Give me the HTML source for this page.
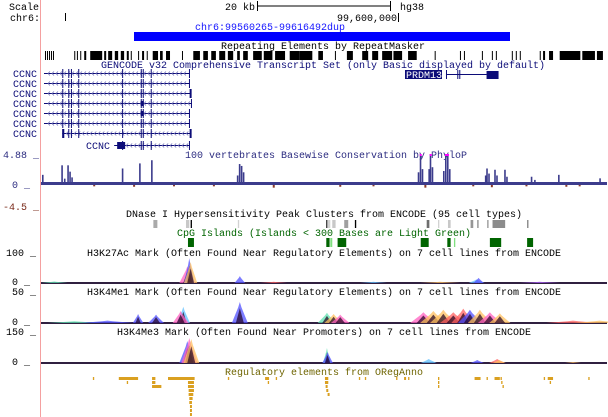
<!DOCTYPE html>
<html><head><meta charset="utf-8"><style>
html,body{margin:0;padding:0;background:#fff;width:608px;height:417px;overflow:hidden}
svg{display:block;font-family:"Liberation Mono",monospace;font-size:10px}
</style></head><body>
<svg id="c" width="608" height="417" viewBox="0 0 608 417" xmlns="http://www.w3.org/2000/svg">
<line x1="40.5" y1="0" x2="40.5" y2="417" stroke="#f4a0a0"/>
<text x="9" y="10" fill="#000">Scale</text>
<text x="10" y="21" fill="#000">chr6:</text>
<text x="225" y="10" fill="#000">20 kb</text>
<path d="M257 6H390M257.5 1V11M390.5 1V11" stroke="#000"/>
<text x="400" y="10" fill="#000">hg38</text>
<text x="397" y="21" text-anchor="end" fill="#000">99,600,000</text>
<path d="M398.5 13V22M65.5 13V21" stroke="#000"/>
<text x="270" y="30" text-anchor="middle" fill="#1414ff">chr6:99560265-99616492dup</text>
<rect x="134" y="32" width="376" height="9" fill="#0000ff"/>
<text x="323" y="49" text-anchor="middle" fill="#000">Repeating Elements by RepeatMasker</text>
<g id="rep"></g>
<text x="323" y="68" text-anchor="middle" fill="#0c0c78">GENCODE v32 Comprehensive Transcript Set (only Basic displayed by default)</text>
<g id="genes"></g>
<text x="326" y="158" text-anchor="middle" fill="#2c2c80">100 vertebrates Basewise Conservation by PhyloP</text>
<text x="3" y="158" fill="#2c2c80">4.88 _</text>
<text x="12" y="188" fill="#2c2c80">0 _</text>
<text x="3" y="210" fill="#7a2a1a">-4.5 _</text>
<g id="cons"></g>
<text x="324" y="217" text-anchor="middle" fill="#000">DNase I Hypersensitivity Peak Clusters from ENCODE (95 cell types)</text>
<g id="dnase"></g>
<text x="324" y="236" text-anchor="middle" fill="#006400">CpG Islands (Islands &lt; 300 Bases are Light Green)</text>
<g id="cpg"></g>
<text x="324" y="256" text-anchor="middle" fill="#000">H3K27Ac Mark (Often Found Near Regulatory Elements) on 7 cell lines from ENCODE</text>
<text x="6" y="256" fill="#000">100 _</text>
<text x="12" y="285" fill="#000">0 _</text>
<g id="k27"></g>
<text x="324" y="295" text-anchor="middle" fill="#000">H3K4Me1 Mark (Often Found Near Regulatory Elements) on 7 cell lines from ENCODE</text>
<text x="12" y="295" fill="#000">50 _</text>
<text x="12" y="325" fill="#000">0 _</text>
<g id="me1"></g>
<text x="324" y="335" text-anchor="middle" fill="#000">H3K4Me3 Mark (Often Found Near Promoters) on 7 cell lines from ENCODE</text>
<text x="6" y="335" fill="#000">150 _</text>
<text x="12" y="365" fill="#000">0 _</text>
<g id="me3"></g>
<text x="324" y="375" text-anchor="middle" fill="#6e6400">Regulatory elements from ORegAnno</text>
<g id="oreg"></g>
</svg>
<script>
// genomic positions in kb from window start (chr6:99,546,300)
const repeatStarts=[0.6,0.9,1.2,1.5,1.8,5.0,5.4,5.9,6.5,7.4,9.5,10.1,11.1,12.0,12.9,13.5,14.6,15.2,15.9,16.8,17.9,18.8,21.2,22.9,24.4,25.6,26.8,28.1,29.5,30.4,31.9,33.5,35.2,37.4,38.9,41.7,44.2,46.0,48.3,49.8,51.3,53.0,55.2,59.2,63.0,63.6,66.3,67.8,68.4,70.8,71.4,72.0,75.0,75.5,76.4,78.0,81.4,83.6];
const repeatEnds=[0.75,1.05,1.35,1.65,1.95,5.15,5.55,6.05,6.8,9.2,9.8,10.7,11.6,12.5,13.2,13.65,14.75,15.5,16.05,17.6,18.3,19.4,21.35,23.9,25.1,26.3,27.7,28.9,29.9,31.1,33.2,34.8,36.7,38.9,40.8,42.4,44.35,46.9,49.2,50.7,52.8,54.3,56.5,59.35,63.15,63.75,66.45,67.95,68.55,70.95,71.55,72.15,75.15,75.8,77.0,81.1,83.3,84.5];
const exonKb=[3.2,4.1,4.5,5.6,12.2,15.0,15.3,16.5];
const geneStarts=[0.45,0.45,0.45,0.45,0.45,0.45,3.2,11.0];
const geneEnds=[22.4,22.4,22.5,22.7,22.4,22.4,22.5,22.4];
const consPos=[0.3,3.2,3.6,4.1,4.4,4.7,12.3,14.9,16.7,29.6,29.9,30.2,30.5,56.8,57.1,57.4,58.4,58.6,58.9,60.6,60.9,61.2,61.5,66.9,67.1,67.4,68.3,68.6,69.8,70.1,73.8,74.3,77.9,84.1];
const consVal=[1.6,3.1,1.0,3.1,2.1,1.2,2.6,3.4,3.9,1.5,3.3,3.0,2.0,2.0,5.0,2.5,2.5,5.0,2.8,2.2,5.0,5.0,2.5,1.5,2.6,1.8,2.4,1.5,2.4,1.3,1.3,0.8,1.6,1.05];
const consNegPos=[8,14,20,26,35,45,50,57.8,65,67.8,73,79,81];
const consNegVal=[-0.3,-0.4,-0.3,-0.3,-0.6,-0.4,-0.3,-0.6,-0.3,-0.5,-0.3,-0.4,-0.3];
const dnaseStart=[16.9,21.8,22.5,29.6,42.9,43.1,43.8,45.6,47.2,58.0,59.7,61.2,64.6,65.6,67.1,67.9,73.1];
const dnaseEnd=[17.5,22.3,22.7,29.8,43.05,43.5,44.3,46.2,47.4,58.4,59.9,61.6,65.0,65.8,67.3,69.8,73.3];
const dnaseShade=[170,200,0,210,0,210,200,160,0,110,210,200,150,140,150,140,130];
const cpgStart=[22.1,42.9,43.5,44.6,57.1,61.1,62.1,67.5,73.1];
const cpgEnd=[23.0,43.4,43.8,45.9,58.3,61.6,62.3,69.2,74.0];
const cpgSmall=[0,0,1,0,0,0,1,0,0];
const k27Pos=[22.0,22.3,22.5,29.9,65.5,65.8,2.0,35.0,50.0,60.0,75.0];
const k27Val=[55,83,70,23,12,17,5,4,4,4,4];
const k27W=[0.6,0.4,0.5,0.4,0.6,0.4,1.0,1.0,1.0,1.5,1.5];
const k27Cell=[6,4,1,4,3,4,2,0,3,1,5];
const me1Pos=[14.6,17.3,21.4,21.0,29.9,43.0,44.0,45.0,57.5,59.0,60.5,62.0,63.5,64.5,66.0,67.5,69.0,5.0,10.0,80.0,84.0];
const me1Val=[15,14,27,20,35,17,15,14,18,20,22,18,24,22,22,18,16,3,4,4,4];
const me1W=[0.4,0.6,0.5,0.6,0.6,0.7,0.7,0.7,1.0,1.0,1.0,1.0,0.9,0.9,0.9,0.9,0.8,2,2,2,2];
const me1Cell=[4,4,3,6,4,2,1,6,6,1,1,0,0,4,1,6,1,2,4,0,1];
const me3Pos=[22.0,22.3,22.6,43.0,43.1,58.3,65.6,68.6,68.9,80.0];
const me3Val=[110,125,120,75,55,20,15,20,15,5];
const me3W=[0.6,0.6,0.6,0.3,0.4,0.6,0.5,0.6,0.5,0.6];
const me3Cell=[4,6,1,2,4,3,4,0,1,1];
const cellColors=["#ff6060","#ffc060","#60e0b0","#60c0ff","#5050ff","#b060ff","#ff60c0"];
const oregStart=[7.8,11.7,16.7,19.1,28.1,33.7,35.3,42.7,47.8,48.7,53.4,54.6,55.2,59.7,65.2,67.0,68.2,69.1,75.6,76.2,82.3, 12.9,16.7,22.1,34.1,42.7,59.7,69.2,76.5, 16.7,22.1,42.8,59.7,69.4, 22.2,22.2,22.3,22.3,22.4,22.4,22.4,22.4,42.9,43.1];
const oregEnd=[8.0,14.6,17.2,23.1,28.3,34.3,35.5,43.2,48.0,48.9,53.6,54.9,55.4,59.9,66.1,67.2,69.0,69.3,75.8,77.0,82.5, 13.1,17.2,23.0,34.3,43.2,59.9,69.4,76.7, 18.1,23.0,43.1,59.9,69.6, 23.0,22.9,22.8,22.7,22.7,22.7,22.7,22.7,43.2,43.4];
const oregRow=[0,0,0,0,0,0,0,0,0,0,0,0,0,0,0,0,0,0,0,0,0, 1,1,1,1,1,1,1,1, 2,2,2,2,2, 3,4,5,6,7,8,9,10,3,4];

const NS="http://www.w3.org/2000/svg";
const X0=41,PX_PER_KB=6.65;
function xs(kb){return X0+kb*PX_PER_KB;}
function el(parent,tag,attrs){const e=document.createElementNS(NS,tag);for(const k in attrs)e.setAttribute(k,attrs[k]);parent.appendChild(e);return e;}
const g=id=>document.getElementById(id);

for(let i=0;i<repeatStarts.length;i++){
  const r=el(g('rep'),'rect',{x:xs(repeatStarts[i]),y:51,width:Math.max(1,xs(repeatEnds[i])-xs(repeatStarts[i])),height:9,fill:'#000'});
  
  
}
const NAVY='#0c0c78';
for(let i=0;i<geneStarts.length;i++){
  const y=i<7?73+i*10:145;
  const lab=el(g('genes'),'text',{x:i<7?37:110,y:y+4,'text-anchor':'end',fill:NAVY});
  lab.textContent='CCNC';
  
  
  const x1=xs(geneStarts[i]),x2=xs(geneEnds[i]);
  const ln=el(g('genes'),'line',{x1:x1,y1:y+0.5,x2:x2,y2:y+0.5,stroke:NAVY});
  
  
  for(let a=x1+4;a<x2-3;a+=4){
    const ch=el(g('genes'),'path',{d:`M${a+2} ${y-1.5}L${a} ${y+0.5}L${a+2} ${y+2.5}`,stroke:'#6a6ab0',fill:'none','stroke-width':0.7});
    
    
  }
  for(const e of exonKb){
    if(e<geneStarts[i]-0.01)continue;
    const ex=el(g('genes'),'rect',{x:xs(e),y:y-4,width:1,height:9,fill:NAVY});
    
    
  }
  const endEx=el(g('genes'),'rect',{x:x2-1,y:y-4,width:(i==2||i==6)?2:1,height:9,fill:NAVY});
  
  
  if(i==3||i==4){const b=el(g('genes'),'rect',{x:xs(15.0),y:y-2,width:3,height:5,fill:NAVY});}
  if(i==6){const b=el(g('genes'),'rect',{x:x1,y:y-4,width:2,height:9,fill:NAVY});}
  if(i==7){const b=el(g('genes'),'rect',{x:x1+3,y:y-3,width:8,height:7,fill:NAVY});}
}
{
  const pb=el(g('genes'),'rect',{x:405,y:70,width:37,height:9,fill:NAVY});
  
  
  const pt=el(g('genes'),'text',{x:406,y:78,fill:'#fff'});
  pt.textContent='PRDM13';
  
  
  const pl=el(g('genes'),'line',{x1:xs(60.9),y1:74.5,x2:xs(67.0),y2:74.5,stroke:NAVY});
  
  
  for(const e of [60.9,62.6,62.9]){const ex=el(g('genes'),'rect',{x:xs(e),y:70,width:1,height:9,fill:NAVY});}
  const pe=el(g('genes'),'rect',{x:xs(67.0),y:71,width:12,height:8,fill:NAVY});
  
  
}
const C0=185,CPX=31/4.88;
function cy(v){return C0-Math.min(v,4.88)*CPX;}
{
  const base=el(g('cons'),'rect',{x:41,y:182,width:566,height:3,fill:'#3c3c8c'});
  
  
}
for(let i=0;i<consPos.length;i++){
  const b=el(g('cons'),'rect',{x:xs(consPos[i])-1,y:cy(consVal[i]),width:1.6,height:C0-cy(consVal[i]),fill:'#3c3c8c'});
  
  
  if(consVal[i]>4.88){const t=el(g('cons'),'rect',{x:xs(consPos[i])-1,y:cy(consVal[i]),width:2,height:2,fill:'#ff00ff'});}
}
for(let i=0;i<consNegPos.length;i++){
  const h=-consNegVal[i]*(20/4.5);
  const b=el(g('cons'),'rect',{x:xs(consNegPos[i])-1,y:C0,width:2,height:h,fill:'#8a3a2a'});
  
  
}
for(let i=0;i<dnaseStart.length;i++){
  const s=dnaseShade[i];
  const b=el(g('dnase'),'rect',{x:xs(dnaseStart[i]),y:220,width:Math.max(1,xs(dnaseEnd[i])-xs(dnaseStart[i])),height:8,fill:`rgb(${s},${s},${s})`});
  
  
}
for(let i=0;i<cpgStart.length;i++){
  const b=el(g('cpg'),'rect',{x:xs(cpgStart[i]),y:238,width:Math.max(1,xs(cpgEnd[i])-xs(cpgStart[i])),height:9,fill:cpgSmall[i]?'#80e080':'#006400'});
  
  
}
function chip(id,pos,val,w,cell,y0,max){
  const grp=g(id);
  const bl=el(grp,'rect',{x:41,y:y0-1,width:566,height:2,fill:'#302040'});
  
  
  for(let i=0;i<pos.length;i++){
    const h=Math.min(val[i],max)/max*30;
    const xc=xs(pos[i]),hw=w[i]*PX_PER_KB;
    const p=el(grp,'path',{d:`M${xc-hw*2} ${y0}L${xc-hw*0.4} ${y0-h*0.75}L${xc} ${y0-h}L${xc+hw*0.4} ${y0-h*0.75}L${xc+hw*2} ${y0}Z`,fill:cellColors[cell[i]],'fill-opacity':0.75});
    
    
    if(h>8){const c=el(grp,'path',{d:`M${xc-hw} ${y0}L${xc} ${y0-h*0.7}L${xc+hw} ${y0}Z`,fill:'#200020','fill-opacity':0.7});}
  }
}
chip('k27',k27Pos,k27Val,k27W,k27Cell,283,100);
chip('me1',me1Pos,me1Val,me1W,me1Cell,323,50);
chip('me3',me3Pos,me3Val,me3W,me3Cell,363,150);
for(let i=0;i<oregStart.length;i++){
  const b=el(g('oreg'),'rect',{x:xs(oregStart[i]),y:377+oregRow[i]*4,width:Math.max(1,xs(oregEnd[i])-xs(oregStart[i])),height:3,fill:'#daa020'});
  
  
}
</script>
</body></html>
